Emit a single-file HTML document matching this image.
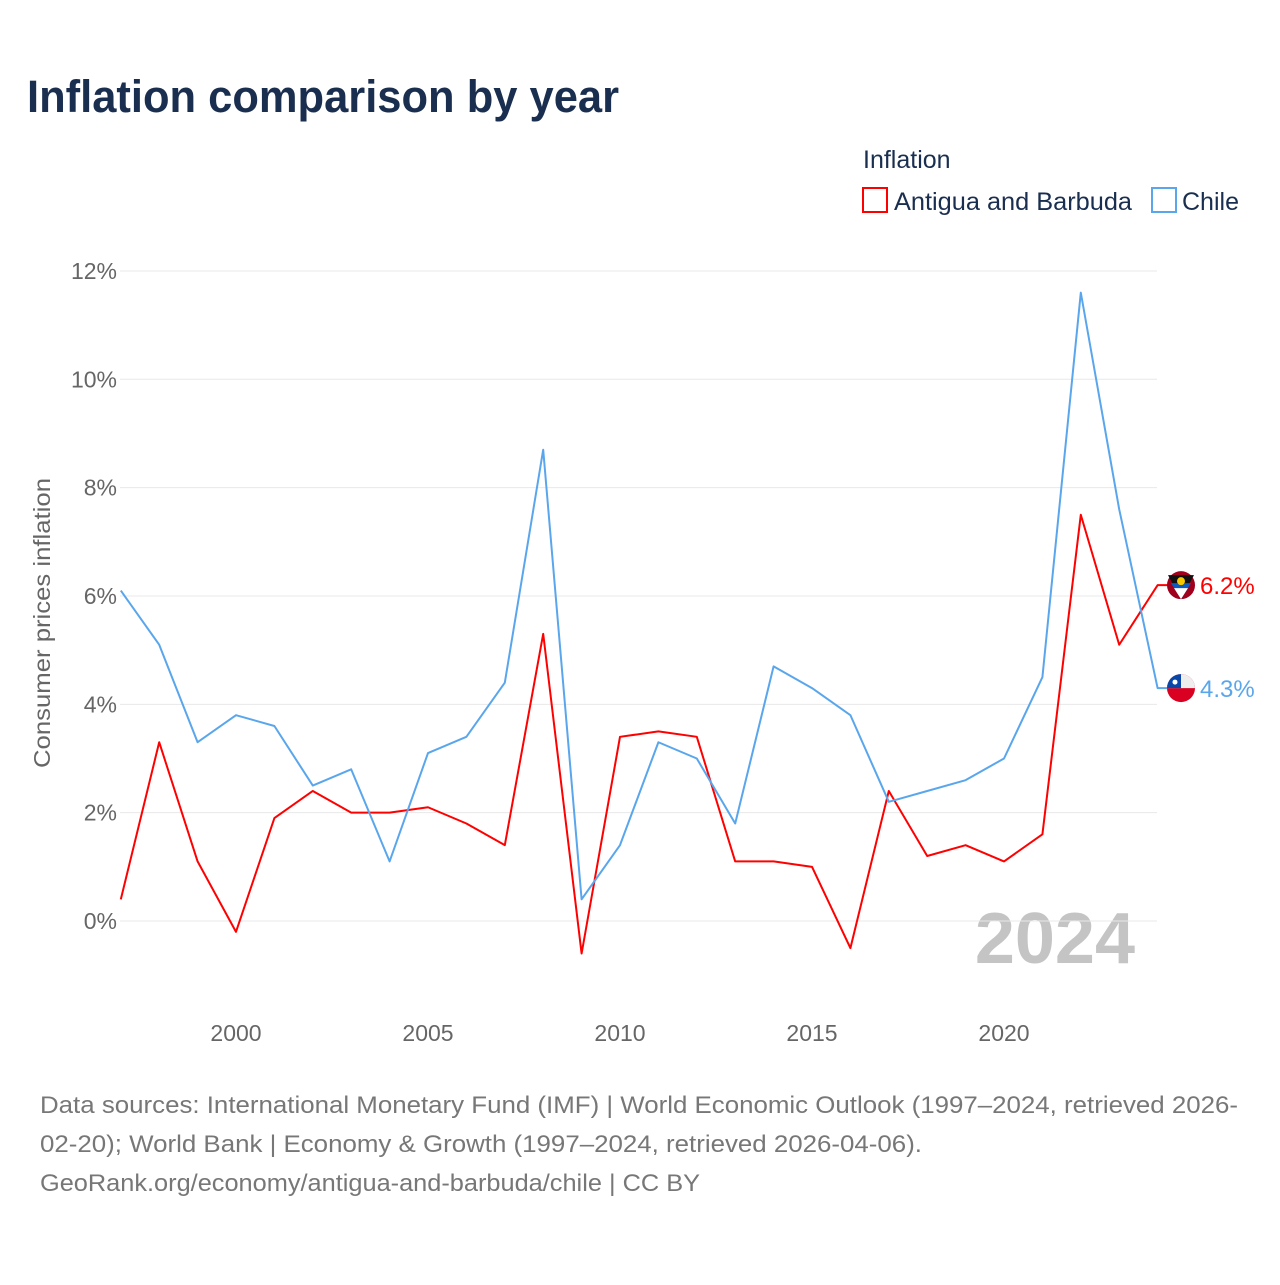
<!DOCTYPE html>
<html><head><meta charset="utf-8"><style>
body{margin:0;background:#fff;font-family:"Liberation Sans",sans-serif;}
</style></head><body>
<svg id="c" width="1280" height="1280" xmlns="http://www.w3.org/2000/svg">
<text x="27" y="112" font-size="45" font-weight="bold" fill="#1a2e4f" textLength="592" lengthAdjust="spacingAndGlyphs">Inflation comparison by year</text>
<text x="863" y="168" font-size="25" fill="#1a2e4f">Inflation</text>
<g><rect x="863" y="188" width="24" height="24" fill="none" stroke="#ff0000" stroke-width="2"/><text x="894" y="210" font-size="25" fill="#1a2e4f" textLength="238" lengthAdjust="spacingAndGlyphs">Antigua and Barbuda</text></g>
<g><rect x="1152" y="188" width="24" height="24" fill="none" stroke="#5aa6ec" stroke-width="2"/><text x="1182" y="210" font-size="25" fill="#1a2e4f">Chile</text></g>
<text transform="translate(50,623) rotate(-90)" text-anchor="middle" font-size="23" fill="#666" textLength="290" lengthAdjust="spacingAndGlyphs">Consumer prices inflation</text>
<text x="1135" y="963" text-anchor="end" font-size="72" font-weight="bold" fill="#c4c4c4">2024</text>
<g id="grid"></g><g id="lines"></g>
<g font-size="24" fill="#777">
<text x="40" y="1113" textLength="1198" lengthAdjust="spacingAndGlyphs">Data sources: International Monetary Fund (IMF) | World Economic Outlook (1997–2024, retrieved 2026-</text>
<text x="40" y="1152" textLength="882" lengthAdjust="spacingAndGlyphs">02-20); World Bank | Economy &amp; Growth (1997–2024, retrieved 2026-04-06).</text>
<text x="40" y="1191" textLength="660" lengthAdjust="spacingAndGlyphs">GeoRank.org/economy/antigua-and-barbuda/chile | CC BY</text>
</g>
</svg>
<script>
const years=[1997,1998,1999,2000,2001,2002,2003,2004,2005,2006,2007,2008,2009,2010,2011,2012,2013,2014,2015,2016,2017,2018,2019,2020,2021,2022,2023,2024];
const antigua=[0.4,3.3,1.1,-0.2,1.9,2.4,2.0,2.0,2.1,1.8,1.4,5.3,-0.6,3.4,3.5,3.4,1.1,1.1,1.0,-0.5,2.4,1.2,1.4,1.1,1.6,7.5,5.1,6.2];
const chile=[6.1,5.1,3.3,3.8,3.6,2.5,2.8,1.1,3.1,3.4,4.4,8.7,0.4,1.4,3.3,3.0,1.8,4.7,4.3,3.8,2.2,2.4,2.6,3.0,4.5,11.6,7.6,4.3];
const yTicks=[0,2,4,6,8,10,12];
const xTicks=[2000,2005,2010,2015,2020];
const NS="http://www.w3.org/2000/svg";
const X=y=>236+(y-2000)*38.4, Y=v=>921-v*54.17;
const grid=document.getElementById('grid'), lines=document.getElementById('lines');
function mk(t,a,p){const e=document.createElementNS(NS,t);for(const k in a)e.setAttribute(k,a[k]);p.appendChild(e);return e;}
yTicks.forEach(t=>{
 const l=mk('line',{x1:120,x2:1157,y1:Y(t),y2:Y(t),stroke:'#e8e8e8','stroke-width':1},grid);
 
 
 const tx=mk('text',{x:117,y:Y(t)+8,'text-anchor':'end','font-size':23,fill:'#666'},grid);tx.textContent=t+'%';
 
 
});
xTicks.forEach(t=>{
 const tx=mk('text',{x:X(t),y:1041,'text-anchor':'middle','font-size':23,fill:'#666'},grid);tx.textContent=t;
 
 
});
function series(vals,col,name){
 const last=vals[vals.length-1];
 const pts=vals.map((v,i)=>X(years[i])+','+Y(v)).join(' ')+' '+(X(2024)+14)+','+Y(last);
 const p=mk('polyline',{points:pts,fill:'none',stroke:col,'stroke-width':2,'stroke-linejoin':'round'},lines);
 
 
 const lb=mk('text',{x:1200,y:Y(last)+9,'font-size':24,fill:col},lines);lb.textContent=last.toFixed(1)+'%';
 
 
 return Y(last);
}
const ya=series(antigua,'#ff0000','antigua');
const yc=series(chile,'#5aa6ec','chile');
const fa=mk('g',{},lines);


mk('circle',{cx:1181,cy:ya,r:14,fill:'#a0001c'},fa);
mk('path',{d:`M1168 ${ya-10} L1194 ${ya-10} L1181 ${ya+14} Z`,fill:'#111'},fa);
mk('path',{d:`M1171 ${ya-2} L1191 ${ya-2} L1181 ${ya+14} Z`,fill:'#0b5cc2'},fa);
mk('path',{d:`M1174 ${ya+3} L1188 ${ya+3} L1181 ${ya+14} Z`,fill:'#fff'},fa);
mk('circle',{cx:1181,cy:ya-4,r:4,fill:'#f8c800'},fa);
const fc=mk('g',{},lines);


mk('circle',{cx:1181,cy:yc,r:14,fill:'#d90022'},fc);
mk('path',{d:`M1167 ${yc} A14 14 0 0 1 1195 ${yc} Z`,fill:'#eee'},fc);
mk('path',{d:`M1167 ${yc} A14 14 0 0 1 1181 ${yc-14} L1181 ${yc} Z`,fill:'#0a45a8'},fc);
mk('circle',{cx:1175,cy:yc-6,r:2.5,fill:'#fff'},fc);
</script>
</body></html>
